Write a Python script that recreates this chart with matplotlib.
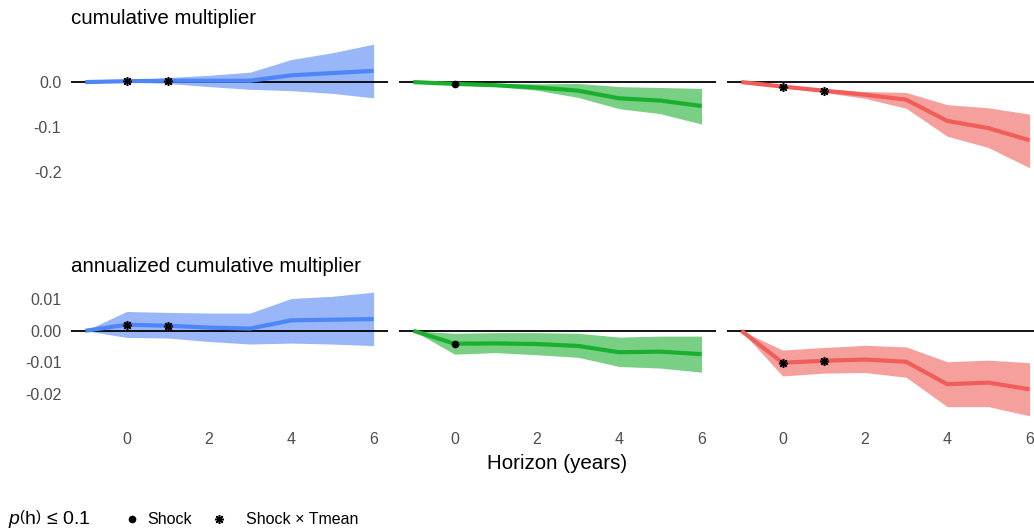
import numpy as np
import matplotlib
matplotlib.use("Agg")
import matplotlib.pyplot as plt
from matplotlib.lines import Line2D

plt.rcParams["font.family"] = ["Liberation Sans", "DejaVu Sans"]
plt.rcParams["mathtext.fontset"] = "custom"
plt.rcParams["mathtext.rm"] = "Liberation Sans"
plt.rcParams["mathtext.it"] = "Liberation Sans:italic"

# Horizons (years)
horizon = [-1, 0, 1, 2, 3, 4, 5, 6]

# Cumulative multiplier: estimate, upper and lower bands
cum_blue = [0.0, 0.002, 0.003, 0.003, 0.003, 0.015, 0.020, 0.025]
cum_blue_hi = [0.0, 0.004, 0.010, 0.015, 0.022, 0.050, 0.065, 0.084]
cum_blue_lo = [0.0, 0.0, -0.003, -0.010, -0.016, -0.019, -0.025, -0.035]

cum_green = [0.0, -0.004, -0.007, -0.012, -0.019, -0.036, -0.041, -0.053]
cum_green_hi = [0.0, -0.002, -0.003, -0.004, -0.003, -0.010, -0.012, -0.014]
cum_green_lo = [0.0, -0.006, -0.010, -0.018, -0.034, -0.059, -0.070, -0.093]

cum_red = [0.0, -0.010, -0.019, -0.028, -0.039, -0.086, -0.102, -0.129]
cum_red_hi = [0.0, -0.008, -0.015, -0.021, -0.023, -0.050, -0.057, -0.071]
cum_red_lo = [0.0, -0.012, -0.023, -0.036, -0.058, -0.120, -0.145, -0.190]

# Annualized cumulative multiplier
ann_blue = [0.0, 0.0019, 0.0016, 0.0010, 0.0007, 0.0033, 0.0035, 0.0037]
ann_blue_hi = [0.0, 0.0061, 0.0058, 0.0056, 0.0056, 0.0102, 0.0109, 0.0122]
ann_blue_lo = [0.0, -0.0021, -0.0023, -0.0034, -0.0042, -0.0039, -0.0042, -0.0047]

ann_green = [0.0, -0.0041, -0.0040, -0.0042, -0.0048, -0.0068, -0.0066, -0.0074]
ann_green_hi = [0.0, -0.0008, -0.0006, -0.0006, -0.0008, -0.0020, -0.0017, -0.0017]
ann_green_lo = [0.0, -0.0074, -0.0069, -0.0076, -0.0084, -0.0113, -0.0118, -0.0131]

ann_red = [0.0, -0.0101, -0.0095, -0.0091, -0.0098, -0.0169, -0.0164, -0.0185]
ann_red_hi = [0.0, -0.0061, -0.0053, -0.0046, -0.0051, -0.0098, -0.0093, -0.0101]
ann_red_lo = [0.0, -0.0143, -0.0134, -0.0132, -0.0147, -0.0240, -0.0240, -0.0269]

# Significance markers per panel: horizons flagged and marker kind
sig_cum = [([0, 1], "star"), ([0], "dot"), ([0, 1], "star")]
sig_ann = [([0, 1], "star"), ([0], "dot"), ([0, 1], "star")]

row_titles = ["cumulative multiplier", "annualized cumulative multiplier"]
cum_ticks = [0.0, -0.1, -0.2]
cum_ticklabels = ["0.0", "-0.1", "-0.2"]
ann_ticks = [0.01, 0.0, -0.01, -0.02]
ann_ticklabels = ["0.01", "0.00", "-0.01", "-0.02"]
x_ticks = [0, 2, 4, 6]

legend_labels = ["Shock", "Shock × Tmean"]

line_colors = ["#4F86F7", "#1AAF2E", "#F15E5A"]
fill_colors = ["#99B6F8", "#79D084", "#F6A09E"]

STAR = (8, 2, 0)
STAR_KW = dict(marker=STAR, ms=6.5, mew=1.1, color="black")
DOT_KW = dict(marker="o", ms=4.5, color="black")

W, H = 1034, 531
fig = plt.figure(figsize=(W / 100, H / 100), dpi=100)

lefts = [71, 399, 727]
pw = 317
tops = [38, 286]
ph = 136

rows = [
    (cum_blue, cum_blue_hi, cum_blue_lo, cum_green, cum_green_hi, cum_green_lo,
     cum_red, cum_red_hi, cum_red_lo),
    (ann_blue, ann_blue_hi, ann_blue_lo, ann_green, ann_green_hi, ann_green_lo,
     ann_red, ann_red_hi, ann_red_lo),
]
sigs = [sig_cum, sig_ann]
ticks = [(cum_ticks, cum_ticklabels), (ann_ticks, ann_ticklabels)]

for r in range(2):
    first = None
    for c in range(3):
        ax = fig.add_axes([lefts[c] / W, 1 - (tops[r] + ph) / H, pw / W, ph / H],
                          sharey=first)
        if first is None:
            first = ax
        est, hi, lo = rows[r][3 * c], rows[r][3 * c + 1], rows[r][3 * c + 2]
        ax.fill_between(horizon, lo, hi, color=fill_colors[c], lw=0, zorder=1)
        ax.axhline(0, color="black", lw=1.3, zorder=2)
        ax.plot(horizon, est, color=line_colors[c], lw=3, zorder=3,
                solid_capstyle="butt")
        hs, kind = sigs[r][c]
        ys = [est[horizon.index(h)] for h in hs]
        kw = STAR_KW if kind == "star" else DOT_KW
        ax.plot(hs, ys, ls="none", zorder=4, **kw)
        ax.set_xlim(-1.35, 6.35)
        for s in ax.spines.values():
            s.set_visible(False)
        ax.tick_params(length=0, labelsize=11.5, labelcolor="#4D4D4D")
        ax.set_xticks(x_ticks)
        if r == 0:
            ax.tick_params(labelbottom=False)
        else:
            ax.tick_params(axis="x", pad=7)
        ax.set_yticks(ticks[r][0])
        ax.set_yticklabels(ticks[r][1])
        ax.tick_params(axis="y", pad=7)
        if c > 0:
            ax.tick_params(labelleft=False)
        if c == 1 and r == 1:
            ax.set_xlabel("Horizon (years)", fontsize=14.8, labelpad=5)
    fig.text(lefts[0] / W, 1 - (18 if r == 0 else 266) / H, row_titles[r],
             fontsize=14.8, va="center", ha="left")

# Legend, laid out along the bottom edge
ly = 1 - 519 / H
fig.text(8 / W, ly, r"$p\left(\mathrm{h}\right)\,\leq\,0.1$", fontsize=14,
         va="center", ha="left")
key_x = [132, 219]
text_x = [147, 246]
keys = [DOT_KW, STAR_KW]
for kx, tx, kw, lab in zip(key_x, text_x, keys, legend_labels):
    fig.add_artist(Line2D([kx / W], [ly], ls="none", transform=fig.transFigure, **kw))
    fig.text(tx / W, ly, lab, fontsize=11.5, va="center", ha="left")

fig.savefig("out.png", dpi=100)
